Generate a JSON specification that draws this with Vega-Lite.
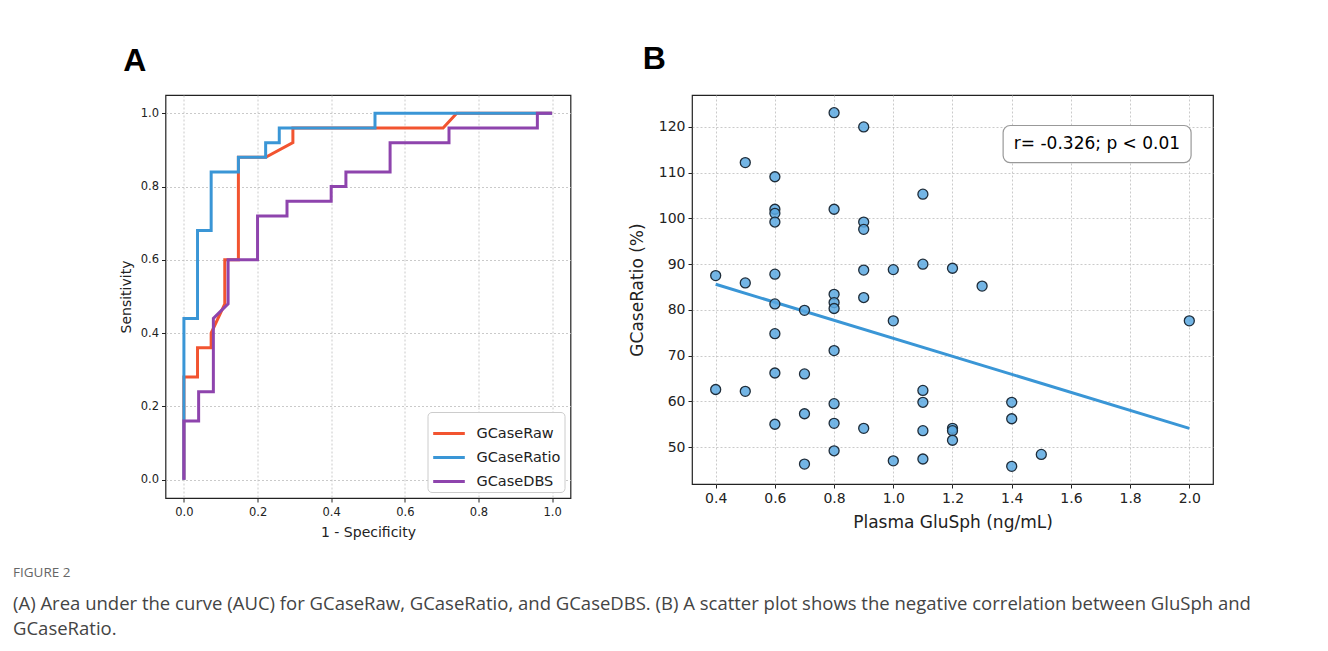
{
  "$schema": "https://vega.github.io/schema/vega-lite/v6.json",
  "background": "white",
  "padding": {"left": 13, "top": 42, "right": 10, "bottom": 10},
  "config": {
    "font": "DejaVu Sans",
    "view": {"stroke": "#222222", "strokeWidth": 1.2},
    "axis": {
      "domain": false,
      "tickColor": "#222222",
      "tickSize": 4,
      "labelColor": "#222222",
      "titleColor": "#222222",
      "titleFontWeight": "normal",
      "gridColor": "#bdbdbd",
      "gridDash": [2, 2],
      "gridWidth": 0.8,
      "labelPadding": 3
    }
  },
  "title": {
    "text": "FIGURE 2",
    "subtitle": [
      "(A) Area under the curve (AUC) for GCaseRaw, GCaseRatio, and GCaseDBS. (B) A scatter plot shows the negative correlation between GluSph and",
      "GCaseRatio."
    ],
    "orient": "bottom",
    "anchor": "start",
    "offset": 26,
    "font": "Open Sans",
    "fontSize": 13.5,
    "fontWeight": "normal",
    "color": "#666666",
    "subtitleFont": "Open Sans",
    "subtitleFontSize": 18.5,
    "subtitleColor": "#444444",
    "subtitleLineHeight": 25,
    "subtitlePadding": 15.5
  },
  "resolve": {"legend": {"color": "independent"}, "scale": {"color": "independent"}},
  "datasets": {
    "roc": [
      {"model": "GCaseRaw", "i": 0, "fpr": 0, "tpr": 0},
      {"model": "GCaseRaw", "i": 1, "fpr": 0, "tpr": 0.28},
      {"model": "GCaseRaw", "i": 2, "fpr": 0.037, "tpr": 0.28},
      {"model": "GCaseRaw", "i": 3, "fpr": 0.037, "tpr": 0.36},
      {"model": "GCaseRaw", "i": 4, "fpr": 0.074, "tpr": 0.36},
      {"model": "GCaseRaw", "i": 5, "fpr": 0.074, "tpr": 0.40},
      {"model": "GCaseRaw", "i": 6, "fpr": 0.111, "tpr": 0.48},
      {"model": "GCaseRaw", "i": 7, "fpr": 0.111, "tpr": 0.60},
      {"model": "GCaseRaw", "i": 8, "fpr": 0.148, "tpr": 0.60},
      {"model": "GCaseRaw", "i": 9, "fpr": 0.148, "tpr": 0.88},
      {"model": "GCaseRaw", "i": 10, "fpr": 0.222, "tpr": 0.88},
      {"model": "GCaseRaw", "i": 11, "fpr": 0.296, "tpr": 0.92},
      {"model": "GCaseRaw", "i": 12, "fpr": 0.296, "tpr": 0.96},
      {"model": "GCaseRaw", "i": 13, "fpr": 0.704, "tpr": 0.96},
      {"model": "GCaseRaw", "i": 14, "fpr": 0.741, "tpr": 1.0},
      {"model": "GCaseRaw", "i": 15, "fpr": 1.0, "tpr": 1.0},
      {"model": "GCaseRatio", "i": 0, "fpr": 0, "tpr": 0},
      {"model": "GCaseRatio", "i": 1, "fpr": 0, "tpr": 0.44},
      {"model": "GCaseRatio", "i": 2, "fpr": 0.037, "tpr": 0.44},
      {"model": "GCaseRatio", "i": 3, "fpr": 0.037, "tpr": 0.68},
      {"model": "GCaseRatio", "i": 4, "fpr": 0.074, "tpr": 0.68},
      {"model": "GCaseRatio", "i": 5, "fpr": 0.074, "tpr": 0.84},
      {"model": "GCaseRatio", "i": 6, "fpr": 0.148, "tpr": 0.84},
      {"model": "GCaseRatio", "i": 7, "fpr": 0.148, "tpr": 0.88},
      {"model": "GCaseRatio", "i": 8, "fpr": 0.222, "tpr": 0.88},
      {"model": "GCaseRatio", "i": 9, "fpr": 0.222, "tpr": 0.92},
      {"model": "GCaseRatio", "i": 10, "fpr": 0.259, "tpr": 0.92},
      {"model": "GCaseRatio", "i": 11, "fpr": 0.259, "tpr": 0.96},
      {"model": "GCaseRatio", "i": 12, "fpr": 0.519, "tpr": 0.96},
      {"model": "GCaseRatio", "i": 13, "fpr": 0.519, "tpr": 1.0},
      {"model": "GCaseRatio", "i": 14, "fpr": 1.0, "tpr": 1.0},
      {"model": "GCaseDBS", "i": 0, "fpr": 0, "tpr": 0},
      {"model": "GCaseDBS", "i": 1, "fpr": 0, "tpr": 0.16},
      {"model": "GCaseDBS", "i": 2, "fpr": 0.04, "tpr": 0.16},
      {"model": "GCaseDBS", "i": 3, "fpr": 0.04, "tpr": 0.24},
      {"model": "GCaseDBS", "i": 4, "fpr": 0.08, "tpr": 0.24},
      {"model": "GCaseDBS", "i": 5, "fpr": 0.08, "tpr": 0.44},
      {"model": "GCaseDBS", "i": 6, "fpr": 0.12, "tpr": 0.48},
      {"model": "GCaseDBS", "i": 7, "fpr": 0.12, "tpr": 0.60},
      {"model": "GCaseDBS", "i": 8, "fpr": 0.2, "tpr": 0.60},
      {"model": "GCaseDBS", "i": 9, "fpr": 0.2, "tpr": 0.72},
      {"model": "GCaseDBS", "i": 10, "fpr": 0.28, "tpr": 0.72},
      {"model": "GCaseDBS", "i": 11, "fpr": 0.28, "tpr": 0.76},
      {"model": "GCaseDBS", "i": 12, "fpr": 0.4, "tpr": 0.76},
      {"model": "GCaseDBS", "i": 13, "fpr": 0.4, "tpr": 0.80},
      {"model": "GCaseDBS", "i": 14, "fpr": 0.44, "tpr": 0.80},
      {"model": "GCaseDBS", "i": 15, "fpr": 0.44, "tpr": 0.84},
      {"model": "GCaseDBS", "i": 16, "fpr": 0.56, "tpr": 0.84},
      {"model": "GCaseDBS", "i": 17, "fpr": 0.56, "tpr": 0.92},
      {"model": "GCaseDBS", "i": 18, "fpr": 0.72, "tpr": 0.92},
      {"model": "GCaseDBS", "i": 19, "fpr": 0.72, "tpr": 0.96},
      {"model": "GCaseDBS", "i": 20, "fpr": 0.96, "tpr": 0.96},
      {"model": "GCaseDBS", "i": 21, "fpr": 0.96, "tpr": 1.0},
      {"model": "GCaseDBS", "i": 22, "fpr": 1.0, "tpr": 1.0}
    ],
    "scatter": [
      {"glusph": 0.4, "ratio": 87.5}, {"glusph": 0.4, "ratio": 62.6},
      {"glusph": 0.5, "ratio": 112.2}, {"glusph": 0.5, "ratio": 85.9}, {"glusph": 0.5, "ratio": 62.2},
      {"glusph": 0.6, "ratio": 109.1}, {"glusph": 0.6, "ratio": 102.0}, {"glusph": 0.6, "ratio": 101.1},
      {"glusph": 0.6, "ratio": 99.2}, {"glusph": 0.6, "ratio": 87.8}, {"glusph": 0.6, "ratio": 81.3},
      {"glusph": 0.6, "ratio": 74.8}, {"glusph": 0.6, "ratio": 66.2}, {"glusph": 0.6, "ratio": 55.0},
      {"glusph": 0.7, "ratio": 79.9}, {"glusph": 0.7, "ratio": 66.0}, {"glusph": 0.7, "ratio": 57.3}, {"glusph": 0.7, "ratio": 46.3},
      {"glusph": 0.8, "ratio": 123.1}, {"glusph": 0.8, "ratio": 102.0}, {"glusph": 0.8, "ratio": 83.4},
      {"glusph": 0.8, "ratio": 81.6}, {"glusph": 0.8, "ratio": 80.3}, {"glusph": 0.8, "ratio": 71.1},
      {"glusph": 0.8, "ratio": 59.5}, {"glusph": 0.8, "ratio": 55.2}, {"glusph": 0.8, "ratio": 49.2},
      {"glusph": 0.9, "ratio": 120.0}, {"glusph": 0.9, "ratio": 99.2}, {"glusph": 0.9, "ratio": 97.6},
      {"glusph": 0.9, "ratio": 88.7}, {"glusph": 0.9, "ratio": 82.7}, {"glusph": 0.9, "ratio": 54.1},
      {"glusph": 1.0, "ratio": 88.8}, {"glusph": 1.0, "ratio": 77.6}, {"glusph": 1.0, "ratio": 47.0},
      {"glusph": 1.1, "ratio": 105.3}, {"glusph": 1.1, "ratio": 90.0}, {"glusph": 1.1, "ratio": 62.4},
      {"glusph": 1.1, "ratio": 59.8}, {"glusph": 1.1, "ratio": 53.6}, {"glusph": 1.1, "ratio": 47.4},
      {"glusph": 1.2, "ratio": 89.1}, {"glusph": 1.2, "ratio": 54.1}, {"glusph": 1.2, "ratio": 53.6}, {"glusph": 1.2, "ratio": 51.5},
      {"glusph": 1.3, "ratio": 85.2},
      {"glusph": 1.4, "ratio": 59.8}, {"glusph": 1.4, "ratio": 56.2}, {"glusph": 1.4, "ratio": 45.8},
      {"glusph": 1.5, "ratio": 48.4},
      {"glusph": 2.0, "ratio": 77.6}
    ],
    "fit": [
      {"glusph": 0.4, "ratio": 85.6},
      {"glusph": 2.0, "ratio": 54.1}
    ]
  },
  "spacing": 56.5,
  "hconcat": [
    {
      "width": 48.5,
      "height": 50,
      "view": {"stroke": null},
      "data": {"values": []},
      "mark": "point"
    },
    {
      "width": 405,
      "height": 403,
      "title": {"text": "A", "anchor": "start", "font": "Liberation Sans", "fontSize": 32, "fontWeight": "bold", "color": "#000000", "dx": 4, "offset": 17},
      "data": {"name": "roc"},
      "mark": {"type": "line", "strokeWidth": 3, "clip": true},
      "encoding": {
        "x": {
          "field": "fpr", "type": "quantitative",
          "scale": {"domain": [-0.05, 1.05], "nice": false, "zero": false},
          "axis": {"values": [0, 0.2, 0.4, 0.6, 0.8, 1.0], "format": ".1f", "title": "1 - Specificity", "labelFontSize": 11.5, "titleFontSize": 14, "titlePadding": 8, "labelPadding": 4}
        },
        "y": {
          "field": "tpr", "type": "quantitative",
          "scale": {"domain": [-0.05, 1.05], "nice": false, "zero": false},
          "axis": {"values": [0, 0.2, 0.4, 0.6, 0.8, 1.0], "format": ".1f", "title": "Sensitivity", "labelFontSize": 11.5, "titleFontSize": 14, "titlePadding": 7}
        },
        "color": {
          "field": "model", "type": "nominal",
          "scale": {"domain": ["GCaseRaw", "GCaseRatio", "GCaseDBS"], "range": ["#f25430", "#3a96d6", "#8e44ad"]},
          "legend": {
            "title": null, "orient": "bottom-right", "offset": 6,
            "fillColor": "white", "strokeColor": "#cccccc", "cornerRadius": 4, "padding": 4,
            "symbolType": "stroke", "symbolSize": 1000, "symbolStrokeWidth": 3,
            "labelFontSize": 14.5, "labelColor": "#222222", "labelOffset": 10, "rowPadding": 0
          }
        },
        "order": {"field": "i", "type": "quantitative"}
      }
    },
    {
      "width": 521,
      "height": 389,
      "title": {"text": "B", "anchor": "start", "font": "Liberation Sans", "fontSize": 32, "fontWeight": "bold", "color": "#000000", "dx": 14, "offset": 19},
      "layer": [
        {
          "data": {"name": "fit"},
          "mark": {"type": "line", "color": "#3a96d6", "strokeWidth": 3},
          "encoding": {
            "x": {"field": "glusph", "type": "quantitative"},
            "y": {"field": "ratio", "type": "quantitative"}
          }
        },
        {
          "data": {"name": "scatter"},
          "mark": {"type": "point", "shape": "circle", "filled": true, "size": 100, "fill": "#5aa8e0", "fillOpacity": 0.85, "stroke": "#1f2d3a", "strokeWidth": 1.3, "strokeOpacity": 1},
          "encoding": {
            "x": {
              "field": "glusph", "type": "quantitative",
              "scale": {"domain": [0.32, 2.08], "nice": false, "zero": false},
              "axis": {"values": [0.4, 0.6, 0.8, 1.0, 1.2, 1.4, 1.6, 1.8, 2.0], "format": ".1f", "title": "Plasma GluSph (ng/mL)", "labelFontSize": 14, "titleFontSize": 17, "titlePadding": 9}
            },
            "y": {
              "field": "ratio", "type": "quantitative",
              "scale": {"domain": [41.94, 126.97], "nice": false, "zero": false},
              "axis": {"values": [50, 60, 70, 80, 90, 100, 110, 120], "title": "GCaseRatio (%)", "labelFontSize": 14, "titleFontSize": 17, "titlePadding": 11.5}
            }
          }
        },
        {
          "data": {"values": [{}]},
          "mark": {"type": "rect", "fill": "white", "stroke": "#999999", "strokeWidth": 1.2, "cornerRadius": 7},
          "encoding": {
            "x": {"datum": 1.371}, "x2": {"datum": 2.006},
            "y": {"datum": 120.3}, "y2": {"datum": 112.2}
          }
        },
        {
          "data": {"values": [{}]},
          "mark": {"type": "text", "fontSize": 17, "color": "#000000", "text": "r= -0.326; p < 0.01", "align": "center", "baseline": "middle"},
          "encoding": {
            "x": {"datum": 1.688},
            "y": {"datum": 116.2}
          }
        }
      ]
    }
  ]
}
